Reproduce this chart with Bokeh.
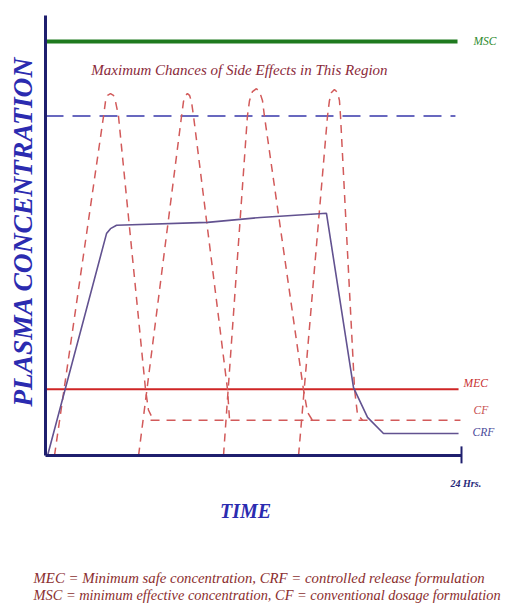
from bokeh.plotting import figure
from bokeh.models import Range1d
from bokeh.core.properties import value
from bokeh.embed import file_html
from bokeh.resources import INLINE
import math

# ---------------- data (time in hours, concentration in arbitrary units) ----------------
MSC_LEVEL = 100.0          # upper green line
SIDE_EFFECT_LEVEL = 82.0   # blue dashed line
MEC_LEVEL = 16.0           # red line
CF_BASE = 8.5              # conventional formulation trough
T_END = 24.0

# conventional dosage formulation: four doses (dashed)
cf1_t = [0.52, 3.35, 3.46, 3.58, 3.75, 3.92, 4.04, 4.21, 5.77, 5.94, 6.23]
cf1_c = [0, 82, 85.5, 87, 87.4, 87, 85.5, 82, 16, 11, 8.5]
cf2_t = [5.37, 7.85, 7.96, 8.08, 8.19, 8.31, 8.42, 8.54, 10.50, 10.62]
cf2_c = [0, 82, 85.5, 87, 87.4, 87, 85.5, 82, 16, 8.5]
cf3_t = [10.27, 11.65, 11.77, 11.94, 12.17, 12.35, 12.52, 12.63, 14.88, 15.12, 15.40]
cf3_c = [0, 82, 85.7, 87.9, 88.6, 87.9, 85.7, 82, 16, 10.4, 8.5]
cf4_t = [14.60, 16.27, 16.38, 16.50, 16.67, 16.85, 16.96, 17.02, 17.83, 18.00, 18.29]
cf4_c = [0, 82, 85.7, 87.7, 88.4, 87.7, 85.7, 82, 16, 9.9, 8.5]
cf_base_t = [6.06, 23.94]

# controlled release formulation
crf_t = [0.12, 3.52, 3.75, 4.10, 9.35, 12.40, 16.21, 17.77, 18.58, 19.50, 23.83]
crf_c = [0, 53.6, 54.8, 55.6, 56.3, 57.5, 58.5, 16.4, 9.2, 5.3, 5.3]

msc_t = [0, 23.77]
side_t = [0, 23.65]
mec_t = [0, 23.83]

# texts
y_title = "PLASMA CONCENTRATION"
x_title = "TIME"
end_tick_label = "24 Hrs."
region_note = "Maximum Chances of Side Effects in This Region"
line_labels = ["MSC", "MEC", "CF", "CRF"]
footer_lines = [
    "MEC = Minimum safe concentration, CRF = controlled release formulation",
    "MSC = minimum effective concentration, CF = conventional dosage formulation",
]

# ---------------- figure ----------------
W, H = 517, 609
PXH = 416.0 / 24.0   # px per hour
PXU = 4.14           # px per conc unit
x0 = -45 / PXH
y1 = 455 / PXU

p = figure(width=W, height=H, output_backend="svg", toolbar_location=None,
           x_range=Range1d(x0, x0 + W / PXH), y_range=Range1d(y1 - H / PXU, y1),
           min_border=0, outline_line_color=None)
p.axis.visible = False
p.grid.visible = False
p.background_fill_color = "white"
p.border_fill_color = "white"

SERIF = value("Liberation Serif")
NAVY = "#1f1f6e"

# reference lines
p.line(msc_t, [MSC_LEVEL] * 2, line_color="#1f7a1f", line_width=4)
p.line(side_t, [SIDE_EFFECT_LEVEL] * 2, line_color="#6868bf", line_width=2, line_dash="18 9")
p.line(mec_t, [MEC_LEVEL] * 2, line_color="#cf2525", line_width=2)

# conventional dosage curves
for t, c in [(cf1_t, cf1_c), (cf2_t, cf2_c), (cf3_t, cf3_c), (cf4_t, cf4_c)]:
    p.line(t, c, line_color="#d25a5a", line_width=1.5, line_dash="8 6")
p.line(cf_base_t, [CF_BASE] * 2, line_color="#d25a5a", line_width=1.5, line_dash="9 7")

# controlled release curve
p.line(crf_t, crf_c, line_color="#625290", line_width=1.6)

# axes drawn through the data scales
p.line([0, 0], [0, 106.3], line_color=NAVY, line_width=3)
p.line([0, T_END], [0, 0], line_color=NAVY, line_width=3)
p.line([T_END, T_END], [-1.9, 2.2], line_color=NAVY, line_width=2)

# text
def txt(x, y, s, color, size, style="italic", align="left", angle=0.0):
    p.text(x=[x], y=[y], text=[s], text_color=color, text_font=SERIF,
           text_font_size=f"{size}px", text_font_style=style, text_align=align,
           text_baseline="middle", angle=angle)

txt(24.69, 100.2, line_labels[0], "#2e8b2e", 11.5)
txt(24.12, 17.4, line_labels[1], "#c83030", 11.5)
txt(24.69, 10.9, line_labels[2], "#c85050", 11.5)
txt(24.64, 5.6, line_labels[3], "#4a4a9a", 11.5)
txt(11.19, 93.0, region_note, "#8b2a3a", 15, align="center")
txt(23.37, -6.8, end_tick_label, "#2a2a7a", 10, style="bold italic")
txt(11.54, -13.5, x_title, "#2b2bb0", 20, style="bold italic", align="center")
txt(-1.33, 54.1, y_title, "#2b2bb0", 27.5, style="bold italic", align="center", angle=math.pi / 2)
txt(-0.69, -29.5, footer_lines[0], "#8b2e2e", 14.8)
txt(-0.69, -33.8, footer_lines[1], "#8b2e2e", 14.4)

open("out.html", "w").write(file_html(p, INLINE))
